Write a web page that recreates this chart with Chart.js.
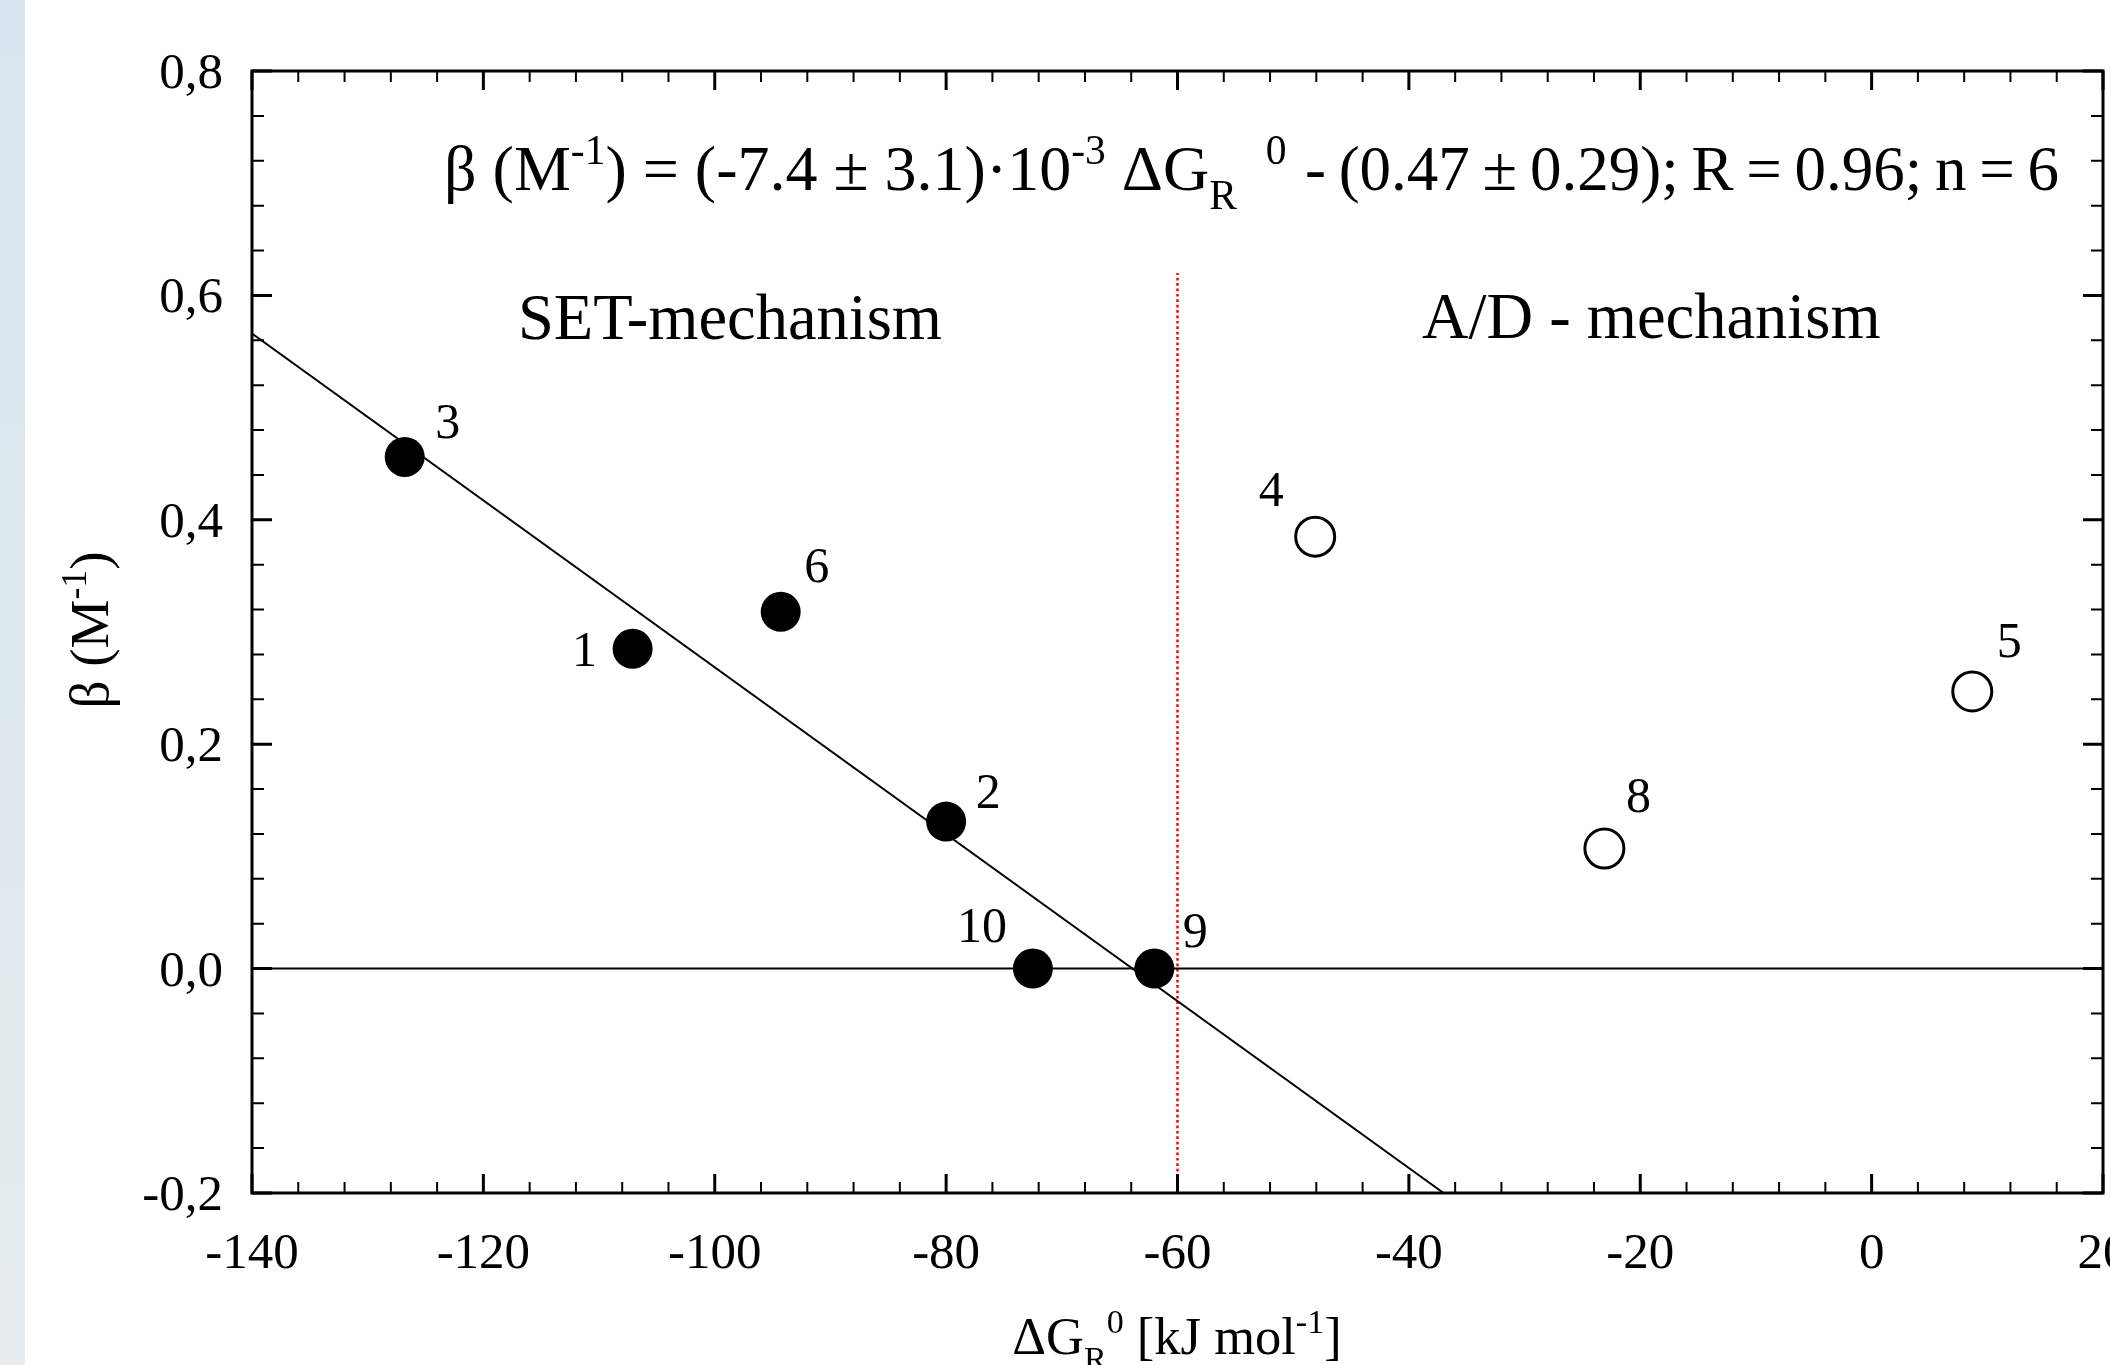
<!DOCTYPE html>
<html>
<head>
<meta charset="utf-8">
<script src="https://cdn.jsdelivr.net/npm/chart.js@4/dist/chart.umd.min.js"></script>
<style>
  html, body { margin: 0; padding: 0; overflow: hidden; background: #fff; }
  #strip {
    position: absolute; left: 0; top: 0; width: 25px; height: 1365px;
    background: linear-gradient(to bottom, #d8e5ee 0%, #dee9ef 45%, #e6ecee 100%);
  }
  #wrap { position: absolute; left: 0; top: 0; width: 2160px; height: 1400px; }
</style>
</head>
<body>
<div id="strip"></div>
<div id="wrap"><canvas id="myChart" width="2160" height="1400"></canvas></div>
<script>
// SET-mechanism compounds (filled circles)
const setNames = ["3", "1", "6", "2", "10", "9"];
const setX = [-126.8, -107.1, -94.3, -80.0, -72.5, -62.0];
const setY = [0.456, 0.285, 0.318, 0.131, 0.0, 0.0];

// A/D-mechanism compounds (open circles)
const adNames = ["4", "8", "5"];
const adX = [-48.1, -23.1, 8.7];
const adY = [0.385, 0.107, 0.247];

// regression line ends
const fitX = [-140, -37.0];
const fitY = [0.566, -0.2];

// divider between mechanisms
const splitX = [-60, -60];
const splitY = [-0.2, 0.62];

const xTicks = [-140, -120, -100, -80, -60, -40, -20, 0, 20];
const xTickLabels = ["-140", "-120", "-100", "-80", "-60", "-40", "-20", "0", "20"];
const yTicks = [-0.2, 0, 0.2, 0.4, 0.6, 0.8];
const yTickLabels = ["-0,2", "0,0", "0,2", "0,4", "0,6", "0,8"];

// label offsets in px (style only)
const setLabelOff = [[43, -32], [-48, 4], [36, -43], [42, -27], [-51, -40], [41, -35]];
const adLabelOff = [[-44, -44], [34, -50], [37, -48]];

const FONT = '"Liberation Serif", "Times New Roman", serif';
const ctx = document.getElementById("myChart").getContext("2d");

const toPts = (xs, ys) => xs.map((x, i) => ({ x: x, y: ys[i] }));

// draws text with sup/sub parts
function drawRich(c, parts, x, y, size) {
  let cx = x;
  parts.forEach((p) => {
    const kind = p[1] || "n";
    let s = size, dy = 0;
    if (kind === "sup") { s = size * 0.65; dy = -size * 0.4; }
    if (kind === "sub") { s = size * 0.65; dy = size * 0.3; }
    if (kind === "gap") { cx += size * p[0]; return; }
    c.font = s + "px " + FONT;
    c.fillText(p[0], cx, y + dy);
    cx += c.measureText(p[0]).width;
  });
}
function richWidth(c, parts, size) {
  let w = 0;
  parts.forEach((p) => {
    const kind = p[1] || "n";
    if (kind === "gap") { w += size * p[0]; return; }
    const s = kind === "n" ? size : size * 0.65;
    c.font = s + "px " + FONT;
    w += c.measureText(p[0]).width;
  });
  return w;
}

const decorations = {
  id: "decorations",
  afterDatasetsDraw(chart) {
    const c = chart.ctx;
    const a = chart.chartArea;
    const xs = chart.scales.x, ys = chart.scales.y;
    c.save();
    c.fillStyle = "#000";
    c.strokeStyle = "#000";

    // inward ticks on all four sides
    const xStep = 20, yStep = 0.2;
    for (let v = -140; v <= 20 + 1e-9; v += xStep / 5) {
      const major = Math.abs(v / xStep - Math.round(v / xStep)) < 1e-6;
      const len = major ? 19 : 11;
      const px = xs.getPixelForValue(v);
      c.lineWidth = major ? 3 : 2;
      c.beginPath();
      c.moveTo(px, a.bottom); c.lineTo(px, a.bottom - len);
      c.moveTo(px, a.top); c.lineTo(px, a.top + len);
      c.stroke();
    }
    for (let k = 0; k <= 25; k++) {
      const v = -0.2 + k * yStep / 5;
      const major = k % 5 === 0;
      const len = major ? 20 : 12;
      const py = ys.getPixelForValue(v);
      c.lineWidth = major ? 3 : 2;
      c.beginPath();
      c.moveTo(a.left, py); c.lineTo(a.left + len, py);
      c.moveTo(a.right, py); c.lineTo(a.right - len, py);
      c.stroke();
    }

    // frame
    c.lineWidth = 3;
    c.strokeRect(a.left, a.top, a.right - a.left, a.bottom - a.top);

    // tick labels
    c.font = "51px " + FONT;
    c.textBaseline = "alphabetic";
    c.textAlign = "center";
    xTicks.forEach((v, i) => {
      c.fillText(xTickLabels[i], xs.getPixelForValue(v), a.bottom + 75);
    });
    c.textAlign = "right";
    yTicks.forEach((v, i) => {
      c.fillText(yTickLabels[i], a.left - 29, ys.getPixelForValue(v) + 17);
    });

    // point numbers
    c.font = "50px " + FONT;
    c.textAlign = "center";
    c.textBaseline = "middle";
    setNames.forEach((n, i) => {
      const px = xs.getPixelForValue(setX[i]), py = ys.getPixelForValue(setY[i]);
      c.fillText(n, px + setLabelOff[i][0], py + setLabelOff[i][1]);
    });
    adNames.forEach((n, i) => {
      const px = xs.getPixelForValue(adX[i]), py = ys.getPixelForValue(adY[i]);
      c.fillText(n, px + adLabelOff[i][0], py + adLabelOff[i][1]);
    });

    // region captions
    c.textAlign = "left";
    c.textBaseline = "alphabetic";
    c.font = "64.5px " + FONT;
    c.fillText("SET-mechanism", 518, 339);
    c.fillText("A/D - mechanism", 1422, 338);

    // fit equation: head from the left, tail ending at the right
    const eqHead = [
      ["\u03b2 (M"], ["-1", "sup"], [") = (-7.4 \u00b1 3.1)\u00b710"], ["-3", "sup"],
      [" \u0394G"], ["R", "sub"], [0.45, "gap"], ["0", "sup"]
    ];
    drawRich(c, eqHead, 444, 190, 64);
    c.wordSpacing = "-3px";
    const eqTail = [["- (0.47 \u00b1 0.29); R = 0.96; n = 6"]];
    drawRich(c, eqTail, 2059 - richWidth(c, eqTail, 63), 190, 63);
    c.wordSpacing = "0px";

    // x axis title
    const xt = [["\u0394G"], ["R", "sub"], ["0", "sup"], [" [kJ mol"], ["-1", "sup"], ["]"]];
    const xw = richWidth(c, xt, 52.5);
    drawRich(c, xt, 1177 - xw / 2, 1354, 52.5);

    // y axis title (rotated)
    const yt = [["\u03b2 (M"], ["-1", "sup"], [")"]];
    const yw = richWidth(c, yt, 55);
    c.translate(108, 630);
    c.rotate(-Math.PI / 2);
    drawRich(c, yt, -yw / 2, 0, 55);

    c.restore();
  }
};

const myChart = new Chart(ctx, {
  type: "scatter",
  data: {
    datasets: [
      {
        label: "SET",
        data: toPts(setX, setY),
        pointRadius: 20,
        pointBackgroundColor: "#000",
        pointBorderWidth: 0,
        showLine: false,
      },
      {
        label: "A/D",
        data: toPts(adX, adY),
        pointRadius: 19.5,
        pointBackgroundColor: "#fff",
        pointBorderColor: "#000",
        pointBorderWidth: 3,
        showLine: false,
      },
      {
        label: "fit",
        data: toPts(fitX, fitY),
        showLine: true,
        pointRadius: 0,
        borderColor: "#000",
        borderWidth: 2,
      },
      {
        label: "zero",
        data: toPts([-140, 20], [0, 0]),
        showLine: true,
        pointRadius: 0,
        borderColor: "#000",
        borderWidth: 2,
      },
      {
        label: "split",
        data: toPts(splitX, splitY),
        showLine: true,
        pointRadius: 0,
        borderColor: "#ff0000",
        borderWidth: 2.5,
        borderDash: [2.7, 2.7],
      },
    ],
  },
  options: {
    responsive: false,
    animation: false,
    events: [],
    layout: { padding: { left: 252, right: 57, top: 71, bottom: 207 } },
    scales: {
      x: { type: "linear", min: -140, max: 20, display: false },
      y: { type: "linear", min: -0.2, max: 0.8, display: false },
    },
    plugins: {
      legend: { display: false },
      tooltip: { enabled: false },
    },
  },
  plugins: [decorations],
});
</script>
</body>
</html>
